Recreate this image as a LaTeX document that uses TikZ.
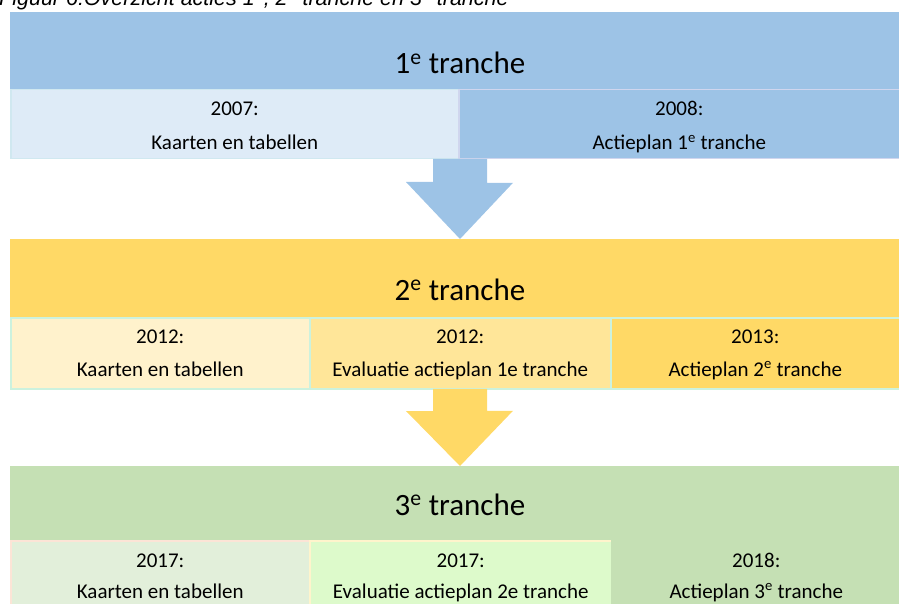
\documentclass[tikz,border=0pt]{standalone}
\usepackage{fontspec}
\setmainfont{Carlito}
\newfontfamily\capfont{Liberation Sans}
\usetikzlibrary{positioning,calc}
\definecolor{bluehd}{RGB}{157,195,230}
\definecolor{bluelt}{RGB}{222,235,247}
\definecolor{bluelnA}{RGB}{208,232,240}
\definecolor{bluelnB}{RGB}{208,214,238}
\definecolor{yelhd}{RGB}{255,217,102}
\definecolor{yellt}{RGB}{255,242,204}
\definecolor{yelmd}{RGB}{255,230,153}
\definecolor{yelln}{RGB}{204,242,222}
\definecolor{grnhd}{RGB}{197,224,180}
\definecolor{grnlt}{RGB}{226,239,218}
\definecolor{grnlime}{RGB}{221,250,203}
\definecolor{peachln}{RGB}{252,228,214}
\definecolor{lemonln}{RGB}{255,244,204}

\tikzset{
  hdr/.style={rectangle, inner sep=0pt, anchor=north west, minimum width=889pt},
  cell/.style={rectangle, inner sep=0pt, line width=1.5pt, anchor=north west},
  hdrtxt/.style={anchor=base, inner sep=0pt, font=\fontsize{31}{36}\selectfont},
  celltxt/.style={anchor=base, inner sep=0pt, font=\fontsize{21}{25}\selectfont},
}

\begin{document}
\begin{tikzpicture}[x=1pt,y=-1pt]
  \useasboundingbox (0,0) rectangle (899,604);
  % caption, cut by the page edge
  \node[anchor=base west, inner sep=0pt, font=\capfont\itshape\fontsize{21.5}{24}\selectfont] (cap) at (-1,6)
    {Figuur 6:Overzicht acties 1\textsuperscript{e}, 2\textsuperscript{e} tranche en 3\textsuperscript{e} tranche};

  % 1e tranche
  \node[hdr, fill=bluehd, minimum height=77pt] (h1) at (10,12) {};
  \node[hdrtxt] (t1) at (460,74) {1\textsuperscript{e} tranche};
  \node[cell, fill=bluelt, draw=bluelnA, minimum width=448pt, minimum height=69pt] (c11) at (10,89) {};
  \node[cell, fill=bluehd, draw=bluelnB, minimum width=441pt, minimum height=69pt] (c12) at (458,89) {};
  \node[celltxt] (y11) at ($(c11.north)+(0,27)$) {2007:};
  \node[celltxt] (d11) at ($(c11.north)+(0,61)$) {Kaarten en tabellen};
  \node[celltxt] (y12) at ($(c12.north)+(0,27)$) {2008:};
  \node[celltxt] (d12) at ($(c12.north)+(0,61)$) {Actieplan 1\textsuperscript{e} tranche};

  % 2e tranche
  \node[hdr, fill=yelhd, minimum height=78pt] (h2) at (10,239) {};
  \node[hdrtxt] (t2) at (460,300) {2\textsuperscript{e} tranche};
  \node[cell, fill=yellt, draw=yelln, minimum width=299pt, minimum height=71pt] (c21) at (10,317) {};
  \node[cell, fill=yelmd, draw=yelln, minimum width=301pt, minimum height=71pt] (c22) at (309,317) {};
  \node[cell, fill=yelhd, draw=yelln, minimum width=289pt, minimum height=71pt] (c23) at (610,317) {};
  \node[celltxt] (y21) at ($(c21.north)+(0,26)$) {2012:};
  \node[celltxt] (d21) at ($(c21.north)+(0,59)$) {Kaarten en tabellen};
  \node[celltxt] (y22) at ($(c22.north)+(0,26)$) {2012:};
  \node[celltxt] (d22) at ($(c22.north)+(0,59)$) {Evaluatie actieplan 1e tranche};
  \node[celltxt] (y23) at ($(c23.north)+(0,26)$) {2013:};
  \node[celltxt] (d23) at ($(c23.north)+(0,59)$) {Actieplan 2\textsuperscript{e} tranche};

  % 3e tranche
  \node[hdr, fill=grnhd, minimum height=74pt] (h3) at (10,466) {};
  \node[hdrtxt] (t3) at (460,515) {3\textsuperscript{e} tranche};
  \node[cell, fill=grnlt, draw=peachln, minimum width=299pt, minimum height=75pt] (c31) at (10,540) {};
  \node[cell, fill=grnlime, draw=lemonln, minimum width=302pt, minimum height=75pt] (c32) at (309,540) {};
  \node[cell, fill=grnhd, draw=grnhd, minimum width=289pt, minimum height=75pt] (c33) at (611,540) {};
  \node[celltxt] (y31) at ($(c31.north)+(0,27)$) {2017:};
  \node[celltxt] (d31) at ($(c31.north)+(0,58)$) {Kaarten en tabellen};
  \node[celltxt] (y32) at ($(c32.north)+(0,27)$) {2017:};
  \node[celltxt] (d32) at ($(c32.north)+(0,58)$) {Evaluatie actieplan 2e tranche};
  \node[celltxt] (y33) at ($(c33.north)+(0,27)$) {2018:};
  \node[celltxt] (d33) at ($(c33.north)+(0,58)$) {Actieplan 3\textsuperscript{e} tranche};

  % block arrows between the tranches
  \coordinate (a1) at (460,158.8);
  \coordinate (a2) at (460,388.8);
  \fill[bluehd] (a1) ++(-27,0) -- ++(54,0) -- ++(0,24) -- ++(26,0) -- (a1|-h2.north) -- ++(-54,-57) -- ++(27,0) -- cycle;
  \fill[yelhd] (a2) ++(-27,0) -- ++(54,0) -- ++(0,22) -- ++(26,0) -- (a2|-h3.north) -- ++(-54,-55) -- ++(27,0) -- cycle;
\end{tikzpicture}
\end{document}
